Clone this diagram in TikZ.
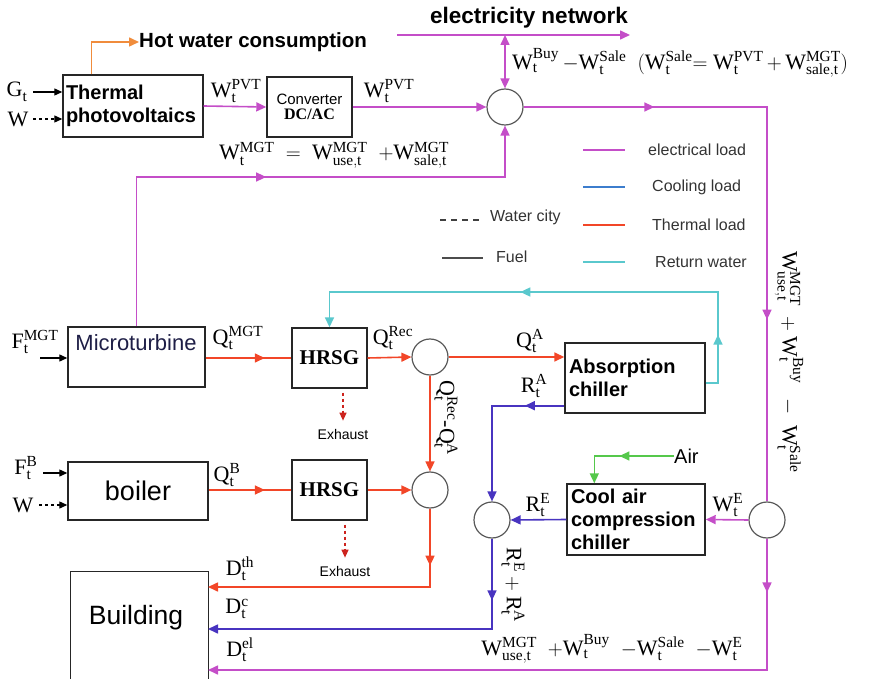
\documentclass[tikz,border=0pt]{standalone}
\usepackage{fontspec}
\setmainfont{Liberation Serif}
\setsansfont{Liberation Sans}
\usetikzlibrary{arrows.meta,decorations.markings}
\definecolor{elec}{RGB}{196,78,200}
\definecolor{therm}{RGB}{242,70,40}
\definecolor{cool}{RGB}{72,52,192}
\definecolor{retw}{RGB}{90,200,205}
\definecolor{airc}{RGB}{85,200,75}
\definecolor{hotw}{RGB}{240,140,60}
\definecolor{exh}{RGB}{205,35,30}
\definecolor{coolleg}{RGB}{60,125,205}
\newcommand{\WW}[3]{\ensuremath{\mathrm{#1}_{\mathrm{#2}}^{\mathrm{#3}}}}
\tikzset{
  box/.style={draw=black!85, line width=1.4pt, rectangle, inner sep=3pt},
  circ/.style={draw=black!65, line width=1.2pt, circle, minimum size=36pt, inner sep=0pt},
  flow/.style={line width=1.6pt},
  el/.style={flow, color=elec},
  th/.style={flow, color=therm},
  co/.style={flow, color=cool},
  rt/.style={flow, color=retw},
  ai/.style={flow, color=airc},
  tip/.style={-{Triangle[length=10pt,width=9pt]}},
  marrow/.style={postaction={decorate}, decoration={markings, mark=at position #1 with {\arrow{Triangle[length=10pt,width=9pt]}}}},
  marrows/.style 2 args={postaction={decorate}, decoration={markings,
      mark=at position #1 with {\arrow{Triangle[length=10pt,width=9pt]}},
      mark=at position #2 with {\arrow{Triangle[length=10pt,width=9pt]}}}},
  lbl/.style={font=\fontsize{22}{24}\selectfont, inner sep=0pt},
  boxtxt/.style={font=\sffamily\bfseries\fontsize{20}{23}\selectfont},
  legtxt/.style={font=\sffamily\fontsize{16}{18}\selectfont, text=black!80, inner sep=0pt},
  fuel/.style={line width=1.2pt, black, -{Triangle[length=8pt,width=7pt]}},
  water/.style={line width=1.2pt, black, dashed, -{Triangle[length=8pt,width=7pt]}},
}
\begin{document}
\begin{tikzpicture}[x=1pt,y=-1pt]
\useasboundingbox (0,0) rectangle (879,679);

% ---------- boxes ----------
\node[box, minimum width=140pt, minimum height=62pt, text width=134pt, align=left, boxtxt] (tpv) at (133,106) {Thermal\\photovoltaics};
\node[box, minimum width=85pt, minimum height=60pt, align=center] (conv) at (309.5,107)
  {{\sffamily\fontsize{15}{18}\selectfont Converter}\\[3pt]{\bfseries\fontsize{16}{18}\selectfont DC/AC}};
\node[circ] (c1) at (505,107) {};
\node[box, minimum width=137pt, minimum height=60pt] (mt) at (136.5,357) {};
\node[font=\sffamily\fontsize{22}{24}\selectfont, text={rgb,255:red,30;green,30;blue,70}, inner sep=0pt] (mttxt) at (136,343) {Microturbine};
\node[box, minimum width=75pt, minimum height=60pt, font=\bfseries\fontsize{21}{24}\selectfont] (h1) at (329.5,358) {HRSG};
\node[circ] (cA) at (430,357) {};
\node[box, minimum width=140pt, minimum height=70pt, text width=132pt, align=left, boxtxt] (abs) at (635,378) {Absorption\\chiller};
\node[box, minimum width=140pt, minimum height=58pt, font=\sffamily\fontsize{27}{30}\selectfont] (boil) at (138,491) {boiler};
\node[box, minimum width=75pt, minimum height=60pt, font=\bfseries\fontsize{21}{24}\selectfont] (h2) at (329.5,490) {HRSG};
\node[circ] (cB) at (430,490) {};
\node[circ] (cC) at (492,520) {};
\node[box, minimum width=138pt, minimum height=71pt, text width=130pt, align=left, boxtxt] (cac) at (636,519.5) {Cool air\\compression\\chiller};
\node[circ] (cR) at (767,520) {};
\node[box, minimum width=138pt, minimum height=130pt, anchor=north west] (bld) at (70,571) {};
\node[font=\sffamily\fontsize{26.5}{30}\selectfont, inner sep=0pt] (bldtxt) at (136,618) {Building};

% ---------- free texts ----------
\node[font=\sffamily\bfseries\fontsize{20.5}{23}\selectfont, anchor=west, inner sep=0pt] (hw) at (139,42) {Hot water consumption};
\node[font=\sffamily\bfseries\fontsize{22.5}{25}\selectfont, inner sep=0pt] (en) at (529,18) {electricity network};
\node[font=\sffamily\fontsize{20}{22}\selectfont, anchor=west, inner sep=0pt] (air) at (674,456) {Air};
\node[font=\sffamily\fontsize{14}{16}\selectfont, inner sep=0pt] (ex1) at (343,434) {Exhaust};
\node[font=\sffamily\fontsize{14}{16}\selectfont, inner sep=0pt] (ex2) at (345,571) {Exhaust};

\coordinate (enL) at (397,35);
\coordinate (enR) at (630,35);

% ---------- inputs ----------
\node[lbl] (gt) at (17,92) {\WW{G}{t}{}};
\coordinate (gts) at (33,92);
\draw[fuel] (gts) -- (gts -| tpv.west);
\node[lbl] (w1) at (18,119) {W};
\coordinate (w1s) at (33,119);
\draw[water] (w1s) -- (w1s -| tpv.west);

\node[lbl] (fmgt) at (35,342) {\WW{F}{t}{MGT}};
\coordinate (fms) at (40,358);
\draw[fuel] (fms) -- (fms -| mt.west);

\node[lbl] (fb) at (26,468) {\WW{F}{t}{B}};
\coordinate (fbs) at (43,473);
\draw[fuel] (fbs) -- (fbs -| boil.west);
\node[lbl] (w2) at (23,505) {W};
\coordinate (w2s) at (39,505);
\draw[water] (w2s) -- (w2s -| boil.west);

% ---------- electrical ----------
\draw[flow, color=hotw, tip] ([xshift=29pt]tpv.north west) |- (hw.west);
\draw[el, tip] (tpv.east) -- (conv.west);
\node[lbl] at (236,91) {\WW{W}{t}{PVT}};
\draw[el, tip] (conv.east) -- (c1.west);
\node[lbl] at (389,91) {\WW{W}{t}{PVT}};
\draw[el, tip] (enL) -- (enR);
\draw[el, {Triangle[length=10pt,width=9pt]}-{Triangle[length=10pt,width=9pt]}] (c1.north |- enL) -- (c1.north);
\node[lbl, anchor=west] at (512,63) {$\mathrm{W_t^{Buy}}\,{-}\mathrm{W_t^{Sale}}\ \ (\mathrm{W_t^{Sale}}{=}\ \mathrm{W_t^{PVT}}\,{+}\,\mathrm{W_{sale,t}^{MGT}})$};

\coordinate (mgtc) at (505,177);
\draw[el, tip, marrow=0.49] (mt.north) |- (mgtc) -- (c1.south);
\node[lbl] at (334,155) {$\mathrm{W_t^{MGT}}\ = \ \mathrm{W_{use,t}^{MGT}}\ \ {+}\mathrm{W_{sale,t}^{MGT}}$};

\draw[el, marrows={0.205}{0.715}] (c1.east) -| (cR.north);
\node[lbl, rotate=-90] at (789,362) {$\mathrm{W_{use,t}^{MGT}}\ + \mathrm{W_t^{Buy}}\ \ - \ \mathrm{W_t^{Sale}}$};
\draw[el, tip] (cR.west) -- (cac.east);
\node[lbl] at (728,505) {\WW{W}{t}{E}};
\coordinate (Del) at (208,670);
\draw[el, tip, marrow=0.078] (cR.south) |- (Del);
\node[lbl] at (612,649) {$\mathrm{W_{use,t}^{MGT}}\ \ {+}\mathrm{W_t^{Buy}}\ \ {-}\mathrm{W_t^{Sale}}\ \ {-}\mathrm{W_t^{E}}$};
\node[lbl] at (240,650) {\WW{D}{t}{el}};

% ---------- thermal ----------
\draw[th, marrow=0.69] (mt.east |- h1.west) -- (h1.west);
\node[lbl] at (238,338) {\WW{Q}{t}{MGT}};
\draw[th, tip] (h1.east) -- (cA.west);
\node[lbl] at (393,338) {\WW{Q}{t}{Rec}};
\draw[th, tip] (cA.east) -- (cA.east -| abs.west);
\node[lbl] at (530,341) {\WW{Q}{t}{A}};
\draw[th, tip] (cA.south) -- (cB.north);
\node[lbl, rotate=-90] at (446,418) {$\mathrm{Q_t^{Rec}}$-$\mathrm{Q_t^{A}}$};
\draw[th, marrow=0.68] (boil.east |- h2.west) -- (h2.west);
\node[lbl] at (227,475) {\WW{Q}{t}{B}};
\draw[th, tip] (h2.east) -- (cB.west);
\coordinate (Dth) at (208,587);
\draw[th, tip, marrow=0.19] (cB.south) |- (Dth);
\node[lbl] at (240,569) {\WW{D}{t}{th}};

\draw[line width=1.3pt, color=exh, dashed, -{Triangle[length=8pt,width=7pt]}] ([yshift=-4pt]ex1.north |- h1.south) -- ([yshift=8pt]ex1.north);
\draw[line width=1.3pt, color=exh, dashed, -{Triangle[length=8pt,width=7pt]}] ([yshift=-4pt]ex2.north |- h2.south) -- ([yshift=8pt]ex2.north);

% ---------- cooling ----------
\draw[co, tip, marrow=0.235] ([yshift=8pt]abs.south west) -| (cC.north);
\node[lbl] at (534,386) {\WW{R}{t}{A}};
\draw[co, tip] (cac.west) -- (cC.east);
\node[lbl] at (538,505) {\WW{R}{t}{E}};
\coordinate (Dc) at (208,629);
\draw[co, tip, marrow=0.165] (cC.south) |- (Dc);
\node[lbl, rotate=-90] at (513,585) {$\mathrm{R_t^{E}}+\mathrm{R_t^{A}}$};
\node[lbl] at (237,609) {\WW{D}{t}{c}};

% ---------- return water ----------
\coordinate (rw) at (718,292);
\draw[rt, tip, marrows={0.115}{0.571}] ([yshift=-5pt]abs.east) -| (rw) -| (h1.north);

% ---------- air ----------
\draw[ai, tip, marrow=0.51] (air.west) -| ([xshift=28pt]cac.north west);

% ---------- legend ----------
\coordinate (l1) at (583,150); \coordinate (l1e) at (625,150);
\draw[line width=1.5pt, elec] (l1) -- (l1e);
\node[legtxt, anchor=west] (t1) at (648,150) {electrical load};
\coordinate (l2) at (583,187); \coordinate (l2e) at (625,187);
\draw[line width=1.5pt, coolleg] (l2) -- (l2e);
\node[legtxt, anchor=west] (t2) at (652,187) {Cooling load};
\coordinate (l3) at (583,225); \coordinate (l3e) at (625,225);
\draw[line width=1.5pt, therm] (l3) -- (l3e);
\node[legtxt, anchor=west] (t3) at (652,225) {Thermal load};
\coordinate (l4) at (583,262); \coordinate (l4e) at (625,262);
\draw[line width=1.5pt, retw] (l4) -- (l4e);
\node[legtxt, anchor=west] (t4) at (655,262) {Return water};
\coordinate (l5) at (440,220); \coordinate (l5e) at (483,220);
\draw[line width=1.4pt, black!75, dash pattern=on 6pt off 5pt] (l5) -- (l5e);
\node[legtxt, anchor=west] (t5) at (490,217) {Water city};
\coordinate (l6) at (442,258); \coordinate (l6e) at (483,258);
\draw[line width=1.4pt, black!70] (l6) -- (l6e);
\node[legtxt, anchor=west] (t6) at (496,257) {Fuel};
\end{tikzpicture}
\end{document}
